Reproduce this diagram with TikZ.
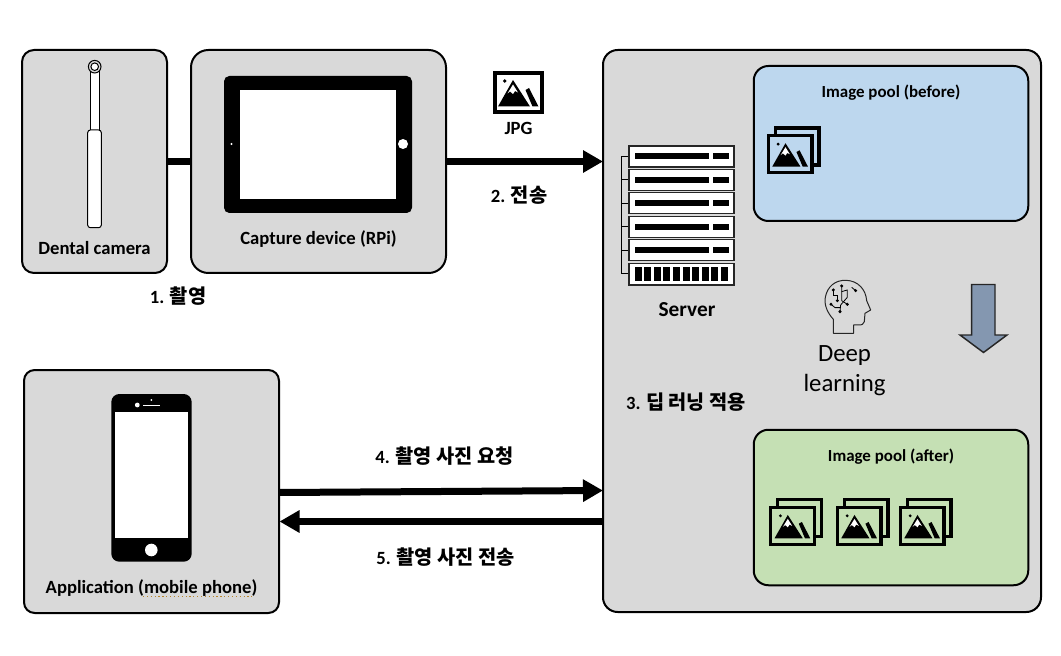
\documentclass[tikz,border=0pt]{standalone}
\usepackage{fontspec}
\setmainfont{Carlito}
\newfontfamily\korfont{Noto Sans CJK KR}
\usetikzlibrary{arrows.meta}
\definecolor{panelgray}{HTML}{D9D9D9}
\definecolor{poolblue}{HTML}{BDD7EE}
\definecolor{poolgreen}{HTML}{C5E0B4}
\definecolor{arrowblue}{HTML}{8497B0}
\definecolor{spellorange}{HTML}{B8862B}
\newcommand{\kor}[1]{{\korfont\fontsize{14.8}{17}\selectfont\bfseries #1}}
\tikzset{
  boxsize/.style 2 args={minimum width=#1*0.75pt, minimum height=#2*0.75pt},
  panel/.style={draw=black, line width=1.5pt, fill=panelgray, inner sep=0pt, outer sep=0pt},
  blacktext/.style={font=\fontsize{14}{17}\selectfont\bfseries, inner sep=0pt},
  pooltext/.style={font=\fontsize{12.7}{15}\selectfont\bfseries, inner sep=0pt},
  link/.style={line width=5.25pt},
  linkarrow/.style={line width=5.25pt, -{Triangle[length=15pt, width=16pt]}},
  thinline/.style={line width=0.75pt, draw=black},
  unitbox/.style={line width=0.9pt, draw=black!85, fill=white},
  photo/.pic={
    \fill [black] (11.7, 10) circle (1.8);
    \fill [black] (20, 9) -- (37, 35.5) -- (5, 35.5) -- cycle;
    \fill [white] (20, 13.5) -- (25, 21.5) -- (22, 20) -- (20, 23) -- (17, 20.5) -- (14.5, 22.5) -- cycle;
    \fill [black] (32.5, 19) -- (36, 17) -- (45.5, 35.5) -- (39.5, 35.5) -- cycle;
  },
  photostack/.pic={
    \draw [line width=2.3pt, fill=none] (8.5, -6) rectangle (52, 31);
    \draw [line width=2.3pt, fill=#1] (1.5, 1.5) rectangle (45, 38.5);
    \begin{scope}[scale=0.88, shift={(1, 1.5)}]
      \fill [black] (11.7, 10) circle (1.8);
      \fill [black] (20, 9) -- (37, 35.5) -- (5, 35.5) -- cycle;
      \fill [white] (20, 13.5) -- (25, 21.5) -- (22, 20) -- (20, 23) -- (17, 20.5) -- (14.5, 22.5) -- cycle;
      \fill [black] (32.5, 19) -- (36, 17) -- (45.5, 35.5) -- (39.5, 35.5) -- cycle;
    \end{scope}
  },
}

\begin{document}
\begin{tikzpicture}[x=0.75pt, y=-0.75pt]
\useasboundingbox (0, 0) rectangle (1061, 656);

% boxes
\node [panel, boxsize={145}{223}, rounded corners=9pt] (camera) at (94.5, 161.5) {};
\node [panel, boxsize={255}{223}, rounded corners=13pt] (capture) at (318.5, 161.5) {};
\node [panel, boxsize={438}{562}, rounded corners=11pt] (serverbox) at (822, 331) {};
\node [panel, boxsize={255}{243}, rounded corners=8pt] (application) at (151.5, 491.5) {};
\node [panel, boxsize={274.5}{155}, fill=poolblue, rounded corners=11pt] (poolbefore) at (891, 143.5) {};
\node [panel, boxsize={274.5}{155.5}, fill=poolgreen, rounded corners=11pt] (poolafter) at (891, 507.5) {};

% connectors
\coordinate (requestfrom) at (279, 492.5);
\coordinate (requestto) at (603, 490.5);
\coordinate (replyfrom) at (603, 521.5);
\coordinate (replyto) at (279.5, 521.5);
\draw [link] (camera.east) -- (capture.west);
\draw [linkarrow] (capture.east) -- (serverbox.west |- capture.east);
\draw [linkarrow] (requestfrom) -- (requestto);
\draw [linkarrow] (replyfrom) -- (replyto);

% dental camera
\draw [thinline, fill=white] (90.7, 70) rectangle (99, 131);
\draw [thinline, fill=white, rounded corners=2pt] (87.7, 130) rectangle (101.3, 227.7);
\draw [thinline, fill=panelgray] (94.7, 66.7) circle (6.3);
\draw [thinline, fill=white] (94.7, 66.7) circle (3.8);

% tablet
\fill [black, rounded corners=4pt] (224, 76) rectangle (412, 213);
\fill [white] (240, 90) rectangle (396, 199);
\fill [white] (403, 144) circle (5);
\fill [white] (231.5, 144) circle (1.2);

% phone
\fill [black, rounded corners=6pt] (111.3, 394) rectangle (191.7, 561.7);
\fill [white] (115, 412.3) rectangle (188, 538.3);
\fill [white] (151.3, 550) circle (6.3);
\fill [white] (137.3, 405) circle (2.4);
\fill [white] (151.3, 400) circle (1);
\draw [white, line width=0.6pt] (143.3, 405) -- (160, 405);
\draw [spellorange, line width=0.9pt, dotted] (143, 596.5) -- (254, 596.5);

% server rack
\draw [thinline] (629, 156.5) -- (621.7, 156.5) -- (621.7, 274) -- (629, 274);
\foreach \y in {146, 169.4, 192.8, 216.2, 239.6} {
  \draw [thinline] (621.7, \y + 10.5) -- (629, \y + 10.5);
  \draw [unitbox] (629, \y) rectangle (734, \y + 21);
  \fill [black] (634.7, \y + 7.5) rectangle (708.7, \y + 13.5);
  \fill [black] (713, \y + 7.5) rectangle (729, \y + 13.5);
}
\draw [unitbox] (629, 263.5) rectangle (734, 285);
\foreach \i in {0, ..., 9} {
  \fill [black] (634.5 + \i * 9.6, 267) rectangle (641.5 + \i * 9.6, 281.5);
}

% icons
\draw [line width=3pt, fill=white] (495, 73) rectangle (542, 112);
\pic at (493, 71) {photo};
\pic at (767, 134) {photostack=poolblue};
\pic at (769.3, 505.7) {photostack=poolgreen};
\pic at (836, 505.7) {photostack=poolgreen};
\pic at (899, 505.7) {photostack=poolgreen};

% head
\begin{scope}[shift={(750, 60)}, scale=0.3333]
  \draw [line width=0.75pt, black!85, line join=round] (250, 820) -- (250, 778) .. controls (232, 758) and (222, 735) .. (226, 712)
    .. controls (232, 680) and (255, 660) .. (288, 661) .. controls (325, 662) and (348, 690) .. (350, 722)
    -- (362, 750) -- (345, 760) -- (343, 785) .. controls (342, 792) and (335, 796) .. (325, 795) -- (311, 795) -- (311, 820) -- cycle;
  \draw [line width=0.6pt, black] (250, 690) -- (250, 705) -- (262, 705) -- (262, 722);
  \draw [line width=0.6pt, black] (275, 678) -- (275, 722) -- (292, 733);
  \draw [line width=0.6pt, black] (275, 695) -- (292, 690) -- (292, 712) -- (272, 735) -- (270, 755);
  \draw [line width=0.6pt, black] (243, 733) -- (255, 743) -- (271, 743);
  \draw [line width=0.6pt, black] (305, 682) -- (317, 692);
  \foreach \x/\y in {250/690, 262/722, 275/678, 292/733, 270/755, 243/733, 317/692} {
    \fill [black] (\x, \y) circle (5);
  }
\end{scope}

% down arrow
\draw [line width=1.1pt, black!85, fill=arrowblue, line join=miter] (971.7, 284.5) -- (995, 284.5) -- (995, 335) -- (1007, 335) -- (983.5, 352.5) -- (960, 335) -- (971.7, 335) -- cycle;

% labels
\node [blacktext] (cameralabel) at (94.5, 248.5) {Dental camera};
\node [blacktext] (capturelabel) at (318.5, 239.5) {Capture device (RPi)};
\node [blacktext] (step1) at (178, 296) {1. \kor{촬영}};
\node [blacktext] (jpglabel) at (518.5, 128.5) {JPG};
\node [blacktext] (step2) at (519, 195) {2. \kor{전송}};
\node [blacktext, font=\fontsize{16}{19}\selectfont\bfseries] (serverlabel) at (687, 310) {Server};
\node [pooltext] (beforelabel) at (891, 93) {Image pool (before)};
\node [pooltext] (afterlabel) at (891, 457) {Image pool (after)};
\node [inner sep=0pt, align=center, font=\fontsize{18.6}{22.4}\selectfont] (deeplabel) at (844.5, 370.5) {Deep\\learning};
\node [blacktext] (step3) at (686, 402) {3. \kor{딥 러닝 적용}};
\node [blacktext] (step4) at (444.5, 456.5) {4. \kor{촬영 사진 요청}};
\node [blacktext] (step5) at (445.5, 557.5) {5. \kor{촬영 사진 전송}};
\node [blacktext] (applabel) at (151.5, 588.5) {Application (mobile phone)};
\end{tikzpicture}
\end{document}
